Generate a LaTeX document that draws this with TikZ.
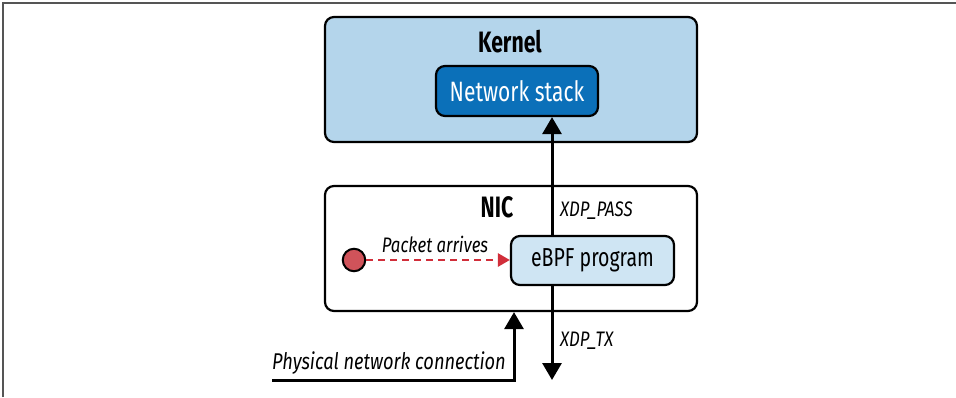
\documentclass[tikz,border=0pt]{standalone}
\usepackage{fontspec}
\setmainfont{Fira Sans}[FakeStretch=0.8]
\newfontfamily\boxfont{Fira Sans}[FakeStretch=0.75]
\newfontfamily\headfont{Fira Sans}[FakeStretch=0.72]
\usetikzlibrary{arrows.meta,calc}
\definecolor{kernelfill}{HTML}{B4D5EB}
\definecolor{stackfill}{HTML}{0B70B9}
\definecolor{ebpffill}{HTML}{CFE5F3}
\definecolor{pktred}{HTML}{D12E3A}
\definecolor{dotfill}{HTML}{D0535A}
\definecolor{framegray}{HTML}{555555}
\tikzset{
  bigbox/.style={draw=black, line width=2.2pt, rounded corners=9pt, minimum width=372pt, minimum height=125pt, inner sep=0pt},
  innerbox/.style={draw=black, line width=2.2pt, rounded corners=9pt, inner sep=0pt},
  title/.style={font=\headfont\fontsize{29.5}{32}\selectfont\bfseries, inner sep=0pt},
  lbl/.style={font=\fontsize{21}{24}\selectfont\itshape, inner sep=0pt},
  flow/.style={line width=3pt, -{Triangle[length=17pt,width=19pt]}},
  pkt/.style={draw=pktred, line width=2.6pt, dash pattern=on 7pt off 5pt, -{Triangle[length=12pt,width=13pt,fill=pktred]}},
}
\begin{document}
\begin{tikzpicture}[x=1pt,y=-1pt]
\useasboundingbox (0,0) rectangle (956,397);
\draw[framegray, line width=1.5pt] (3,397) -- (3,3) -- (956,3);
% boxes
\node[bigbox, fill=kernelfill] (kernel) at (511,79.5) {};
\node[title] (kernellbl) at (510,42) {Kernel};
\node[innerbox, fill=stackfill, minimum width=162pt, minimum height=50pt,
      font=\boxfont\fontsize{28}{30}\selectfont, text=white] (stack) at (517,91) {Network stack};
\node[bigbox, fill=white] (nic) at (511,248.5) {};
\node[title] (niclbl) at (497,207) {NIC};
% coordinates of free ends and vertical lines
\coordinate (vx) at (552,0);
\coordinate (px) at (514,0);
\coordinate (txend) at (552,380);
\coordinate (phys) at (272,380);
% eBPF program and flows
\node[innerbox, fill=ebpffill, minimum width=163pt, minimum height=49pt,
      font=\boxfont\fontsize{26}{28}\selectfont] (ebpf) at (592.5,260.5) {eBPF program};
\draw[flow] (ebpf.north -| vx) -- (stack.south -| vx);
\draw[flow] (ebpf.south -| vx) -- (txend);
\draw[flow] (phys) -| (nic.south -| px);
% packet
\node[circle, draw=black, line width=2pt, fill=dotfill, minimum size=22.5pt, inner sep=0pt] (dot) at (354,260) {};
\draw[pkt] (dot) -- (dot -| ebpf.west);
% labels
\node[lbl, anchor=west] (pass) at (560,211) {XDP\_PASS};
\node[lbl, anchor=west] (tx) at (560,341) {XDP\_TX};
\node[lbl] (arr) at (435,244) {Packet arrives};
\node[lbl, anchor=west, font=\fontsize{22.8}{26}\selectfont\itshape] (physlbl) at (272,363) {Physical network connection};
\end{tikzpicture}
\end{document}
